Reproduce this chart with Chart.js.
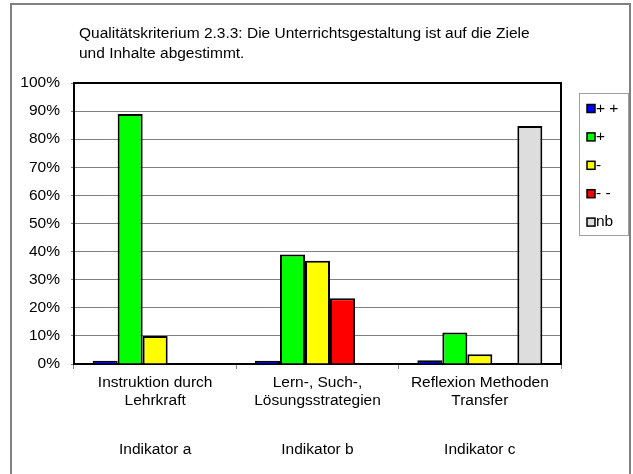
<!DOCTYPE html>
<html>
<head>
<meta charset="utf-8">
<script src="https://cdn.jsdelivr.net/npm/chart.js@4/dist/chart.umd.min.js"></script>
<style>
  body { margin: 0; background: #fff; }
  #wrap { width: 633px; height: 474px; }
</style>
</head>
<body>
<div id="wrap"><canvas id="qkChart" width="633" height="474"></canvas></div>
<script>
const categories = [
  ["Instruktion durch", "Lehrkraft"],
  ["Lern-, Such-,", "Lösungsstrategien"],
  ["Reflexion Methoden", "Transfer"],
];
const indicators = ["Indikator a", "Indikator b", "Indikator c"];
const seriesNames = ["+ +", "+", "-", "- -", "nb"];
const seriesColors = ["#0000ff", "#00ff00", "#ffff00", "#ff0000", "#dddddd"];
const plusPlus = [1.2, 1.2, 1.3];
const plus = [89, 39, 11.2];
const minus = [10, 36.7, 3.5];
const minusMinus = [0, 23.4, 0];
const nb = [0, 0, 84.7];
const yTicks = [0, 10, 20, 30, 40, 50, 60, 70, 80, 90, 100];
const titleLines = [
  "Qualitätskriterium 2.3.3: Die Unterrichtsgestaltung ist auf die Ziele",
  "und Inhalte abgestimmt.",
];

const FONT = "Liberation Sans, Arial, sans-serif";
const FS = 15.5;
const seriesData = [plusPlus, plus, minus, minusMinus, nb];

const extras = {
  id: "extras",
  afterDraw(chart) {
    const c = chart.ctx;
    const a = chart.chartArea;
    c.save();
    // outer frame
    c.strokeStyle = "#808080";
    c.lineWidth = 2;
    c.beginPath();
    c.moveTo(11, 474);
    c.lineTo(11, 4);
    c.lineTo(630, 4);
    c.lineTo(630, 474);
    c.stroke();
    // plot border top/right
    c.strokeStyle = "#000";
    c.lineWidth = 2;
    c.beginPath();
    c.moveTo(a.left, a.top);
    c.lineTo(a.right, a.top);
    c.lineTo(a.right, a.bottom);
    c.stroke();
    // title
    c.fillStyle = "#000";
    c.font = FS + "px " + FONT;
    c.textBaseline = "middle";
    c.textAlign = "left";
    titleLines.forEach((t, i) => c.fillText(t, 79, 34 + i * 19.5));
    // indicator labels
    c.textAlign = "center";
    const xs = chart.scales.x;
    indicators.forEach((t, i) => c.fillText(t, xs.getPixelForValue(i), 450));
    // legend
    c.strokeStyle = "#a0a0a0";
    c.lineWidth = 1;
    c.strokeRect(579.5, 93.5, 49, 142);
    c.textAlign = "left";
    seriesNames.forEach((name, i) => {
      const y = 108.5 + i * 28.4;
      c.fillStyle = seriesColors[i];
      c.fillRect(587, y - 4, 8, 8);
      c.strokeStyle = "#000";
      c.lineWidth = 1.5;
      c.strokeRect(587, y - 4, 8, 8);
      c.fillStyle = "#000";
      c.fillText(name, 596, y);
    });
    c.restore();
  },
};

new Chart(document.getElementById("qkChart"), {
  type: "bar",
  data: {
    labels: categories,
    datasets: seriesNames.map((name, i) => ({
      label: name,
      data: seriesData[i],
      backgroundColor: seriesColors[i],
      borderColor: "#000",
      borderWidth: 2,
      categoryPercentage: 0.77,
      barPercentage: 1.0,
    })),
  },
  options: {
    responsive: false,
    animation: false,
    layout: { padding: { left: 0, top: 83, right: 72, bottom: 0 } },
    plugins: {
      legend: { display: false },
      tooltip: { enabled: false },
    },
    scales: {
      x: {
        afterFit: (s) => { s.height = 110; },
        grid: {
          offset: true,
          drawOnChartArea: false,
          tickLength: 5,
          color: "#808080",
        },
        border: { color: "#000", width: 2 },
        ticks: {
          color: "#000",
          font: { family: FONT, size: FS, lineHeight: 1.18 },
          padding: 4.5,
          maxRotation: 0,
          autoSkip: false,
        },
      },
      y: {
        min: 0,
        max: 100,
        afterFit: (s) => { s.width = 74; },
        afterBuildTicks: (s) => { s.ticks = yTicks.map((v) => ({ value: v })); },
        grid: { color: "#808080", lineWidth: 1, tickLength: 3 },
        border: { color: "#000", width: 2 },
        ticks: {
          color: "#000",
          font: { family: FONT, size: FS },
          padding: 11,
          callback: (v) => v + "%",
        },
      },
    },
  },
  plugins: [extras],
});
</script>
</body>
</html>
